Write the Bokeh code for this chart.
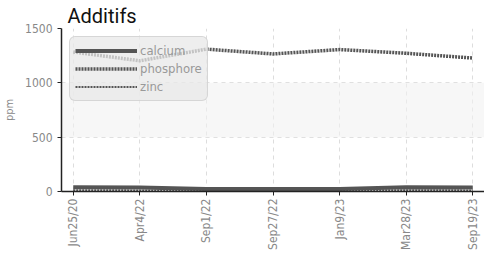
from bokeh.plotting import figure
from bokeh.models import Range1d, FixedTicker, BoxAnnotation, Legend, LegendItem
from bokeh.embed import file_html
from bokeh.resources import INLINE

dates = ["Jun25/20", "Apr4/22", "Sep1/22", "Sep27/22", "Jan9/23", "Mar28/23", "Sep19/23"]
calcium = [38, 36, 22, 22, 22, 38, 36]
phosphore = [1284, 1203, 1310, 1266, 1306, 1272, 1228]
zinc = [12, 10, 10, 10, 10, 12, 10]

xs = list(range(len(dates)))

p = figure(width=484, height=253, output_backend="svg", toolbar_location=None,
           x_range=Range1d(-0.176, len(dates) - 1 + 0.176), y_range=Range1d(0, 1500),
           min_border_left=48, min_border_right=0, min_border_top=24, min_border_bottom=62)
p.title.text = "Additifs"
p.title.text_font = "Roboto"
p.title.text_font_size = "20px"
p.title.text_font_style = "normal"
p.title.text_color = "#111111"
p.title.offset = 6
p.title.standoff = 2
p.outline_line_color = None

p.add_layout(BoxAnnotation(bottom=500, top=1000, fill_color="#f2f2f2", fill_alpha=0.6, line_color=None, level="underlay"))

l1 = p.line(xs, calcium, line_color="#555555", line_width=4)
l2 = p.line(xs, phosphore, line_color="#555555", line_width=3.5, line_dash="2 1")
l3 = p.line(xs, zinc, line_color="#555555", line_width=2, line_dash="2 1")

legend = Legend(items=[LegendItem(label="calcium", renderers=[l1]),
                       LegendItem(label="phosphore", renderers=[l2]),
                       LegendItem(label="zinc", renderers=[l3])],
                location="top_left")
legend.glyph_width = 62
legend.glyph_height = 17
legend.label_height = 17
legend.label_text_font = "DejaVu Sans Condensed"
legend.label_text_font_size = "13px"
legend.label_text_color = "#999999"
legend.label_standoff = 3
legend.spacing = 1
legend.padding = 5
legend.margin = 8
legend.background_fill_color = "#e8e8e8"
legend.background_fill_alpha = 0.75
legend.border_line_color = "#d0d0d0"
legend.border_line_alpha = 0.8
try:
    legend.border_radius = 6
except Exception:
    pass
p.add_layout(legend)

p.xaxis.ticker = FixedTicker(ticks=xs)
p.xaxis.major_label_overrides = {i: d for i, d in enumerate(dates)}
p.xaxis.major_label_orientation = 1.5708
p.xaxis.major_label_standoff = 3
p.yaxis.ticker = FixedTicker(ticks=[0, 500, 1000, 1500])
p.yaxis.axis_label = "ppm"
p.yaxis.axis_label_text_font = "DejaVu Sans Condensed"
p.yaxis.axis_label_text_font_size = "11px"
p.yaxis.axis_label_text_font_style = "normal"
p.yaxis.axis_label_text_color = "#888888"
p.yaxis.axis_label_standoff = 6
for ax in (p.xaxis, p.yaxis):
    ax.major_label_text_font = "DejaVu Sans Condensed"
    ax.major_label_text_font_size = "12px"
    ax.major_label_text_color = "#888888"
    ax.axis_line_color = "#222222"
    ax.axis_line_width = 1.5
    ax.major_tick_line_color = "#222222"
    ax.major_tick_in = 0
    ax.major_tick_out = 4
    ax.minor_tick_line_color = None
p.xgrid.grid_line_color = "#dddddd"
p.xgrid.grid_line_dash = "4 4"
p.ygrid.grid_line_color = "#dddddd"
p.ygrid.grid_line_dash = "4 4"

open("out.html", "w").write(file_html(p, INLINE))
